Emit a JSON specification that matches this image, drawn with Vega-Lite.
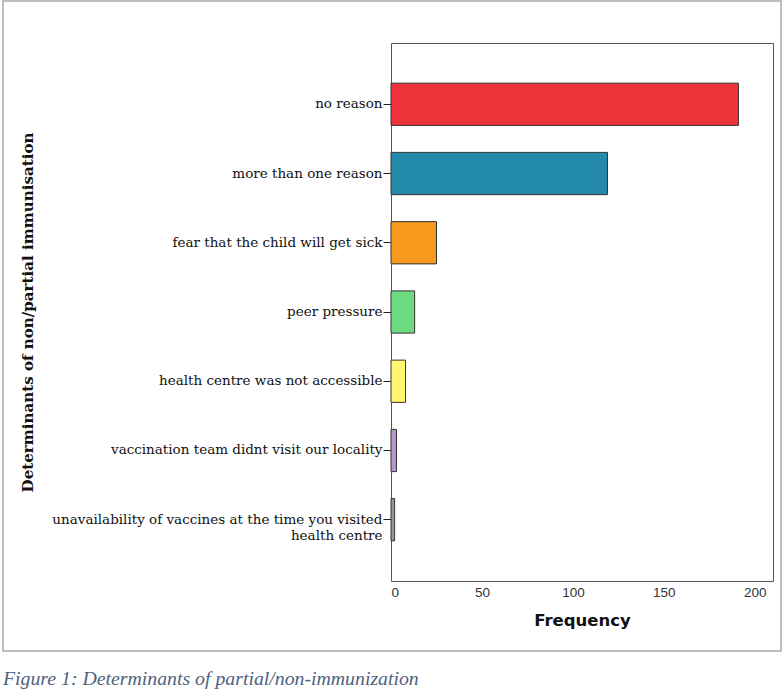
{
  "$schema": "https://vega.github.io/schema/vega-lite/v6.json",
  "width": 778,
  "height": 650,
  "autosize": {"type": "none"},
  "padding": {"left": 3, "top": 1, "right": 2, "bottom": 40},
  "background": "white",
  "title": {
    "text": "Figure 1: Determinants of partial/non-immunization",
    "orient": "bottom",
    "anchor": "start",
    "frame": "group",
    "font": "Liberation Serif",
    "fontStyle": "italic",
    "fontWeight": "normal",
    "fontSize": 19.8,
    "color": "#4F6180",
    "baseline": "top",
    "offset": 18
  },
  "data": {
    "values": [
      {"reason": "no reason", "frequency": 191},
      {"reason": "more than one reason", "frequency": 119},
      {"reason": "fear that the child will get sick", "frequency": 25},
      {"reason": "peer pressure", "frequency": 13},
      {"reason": "health centre was not accessible", "frequency": 8},
      {"reason": "vaccination team didnt visit our locality", "frequency": 3},
      {"reason": "unavailability of vaccines at the time you visited health centre", "frequency": 2}
    ]
  },
  "config": {"view": {"stroke": "#bdbdbd", "strokeWidth": 2}},
  "layer": [
    {
      "mark": {"type": "bar", "stroke": "#333333", "strokeWidth": 1},
      "encoding": {
        "y": {
          "field": "reason",
          "type": "nominal",
          "sort": null,
          "scale": {"range": [42, 580], "paddingInner": 0.39, "paddingOuter": 0.58},
          "axis": {
            "orient": "left",
            "offset": -388,
            "title": "Determinants of non/partial immunisation",
            "tickSize": 8,
            "tickColor": "#222222",
            "domainColor": "#555555",
            "grid": false,
            "labelFont": "DejaVu Serif",
            "labelFontSize": 13.5,
            "labelColor": "#111111",
            "labelPadding": 1,
            "labelLimit": 500,
            "labelLineHeight": 16,
            "labelExpr": "datum.value == 'unavailability of vaccines at the time you visited health centre' ? ['unavailability of vaccines at the time you visited', 'health centre'] : datum.label",
            "titleFont": "DejaVu Serif",
            "titleFontSize": 15.1,
            "titleFontWeight": "bold",
            "titleColor": "#111111",
            "titleX": -356
          }
        },
        "x": {
          "field": "frequency",
          "type": "quantitative",
          "scale": {"domain": [0, 210], "range": [388, 770], "nice": false},
          "axis": {
            "orient": "bottom",
            "offset": -70,
            "title": "Frequency",
            "values": [0, 50, 100, 150, 200],
            "ticks": false,
            "grid": false,
            "domainColor": "#555555",
            "labelFont": "Liberation Sans",
            "labelFontSize": 13.5,
            "labelColor": "#333333",
            "labelPadding": 4,
            "titleFont": "DejaVu Sans",
            "titleFontSize": 16.5,
            "titleFontWeight": "bold",
            "titleColor": "#111111",
            "titlePadding": 14
          }
        },
        "color": {
          "field": "reason",
          "type": "nominal",
          "scale": {
            "domain": ["no reason", "more than one reason", "fear that the child will get sick", "peer pressure", "health centre was not accessible", "vaccination team didnt visit our locality", "unavailability of vaccines at the time you visited health centre"],
            "range": ["#EF333A", "#248AAC", "#F89A1E", "#6CDA7E", "#FFF66E", "#B796C8", "#969696"]
          },
          "legend": null
        }
      }
    },
    {
      "mark": {"type": "bar", "opacity": 0},
      "encoding": {
        "y": {
          "field": "reason",
          "type": "nominal",
          "sort": null,
          "axis": {"orient": "right", "offset": -8, "labels": false, "ticks": false, "title": null, "grid": false, "domainColor": "#555555"}
        },
        "x": {
          "field": "frequency",
          "type": "quantitative",
          "axis": {"orient": "top", "offset": -42, "labels": false, "ticks": false, "title": null, "grid": false, "domainColor": "#555555"}
        }
      }
    }
  ],
  "resolve": {"axis": {"x": "independent", "y": "independent"}}
}
